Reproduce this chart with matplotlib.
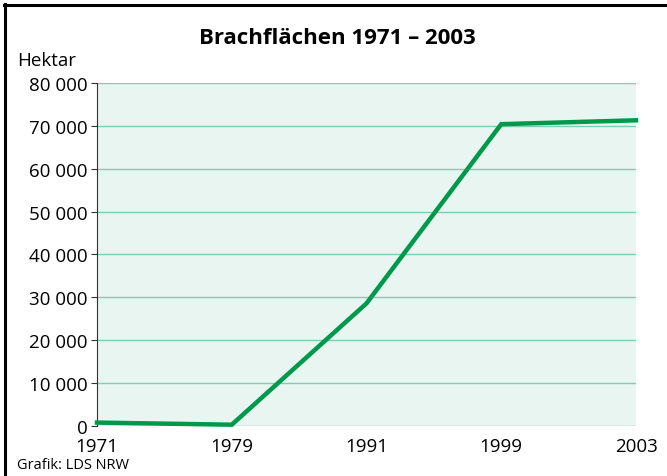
import matplotlib.pyplot as plt
from matplotlib.lines import Line2D

# data
years = ["1971", "1979", "1991", "1999", "2003"]
hektar = [800, 300, 28600, 70400, 71300]
yticks = [0, 10000, 20000, 30000, 40000, 50000, 60000, 70000, 80000]
ytick_labels = ["0", "10 000", "20 000", "30 000", "40 000", "50 000", "60 000", "70 000", "80 000"]

plt.rcParams['font.family'] = ['Open Sans', 'DejaVu Sans']

W, H = 667, 477
fig = plt.figure(figsize=(W / 100, H / 100), dpi=100)
ax = fig.add_axes([97 / W, 1 - 427 / H, (636 - 97) / W, (427 - 84) / H])

ax.set_facecolor('#e8f5f0')
for v in yticks:
    ax.axhline(v, color='#7ccfb6', linewidth=1.0, zorder=1)

x = list(range(len(years)))
ax.plot(x, hektar, color='#00994c', linewidth=3.2, solid_joinstyle='miter', zorder=3, clip_on=False)

ax.set_xlim(0, len(years) - 1)
ax.set_ylim(0, 80000)
ax.set_yticks(yticks)
ax.set_yticklabels(ytick_labels, fontsize=13.5)
ax.set_xticks(x)
ax.set_xticklabels(years, fontsize=13.5)
ax.tick_params(axis='x', length=0, pad=8)
ax.tick_params(axis='y', length=4, width=0.8, color='#333333', pad=3)

for s in ['top', 'right', 'bottom']:
    ax.spines[s].set_visible(False)
ax.spines['left'].set_color('#333333')
ax.spines['left'].set_linewidth(0.8)

fig.text(337 / W, 1 - 38 / H, "Brachflächen 1971 – 2003", ha='center', va='center',
         fontsize=16, fontweight='bold')
fig.text(17 / W, 1 - 61 / H, "Hektar", ha='left', va='center', fontsize=13.5)
fig.text(17 / W, 1 - 466 / H, "Grafik: LDS NRW", ha='left', va='center', fontsize=10.5)

# frame on top and left
fig.add_artist(Line2D([4 / W, 1], [1 - 6 / H, 1 - 6 / H], color='black', linewidth=2.2,
                      transform=fig.transFigure))
fig.add_artist(Line2D([5 / W, 5 / W], [1 - 5 / H, 0], color='black', linewidth=2.2,
                      transform=fig.transFigure))

fig.savefig('out.png', dpi=100)
